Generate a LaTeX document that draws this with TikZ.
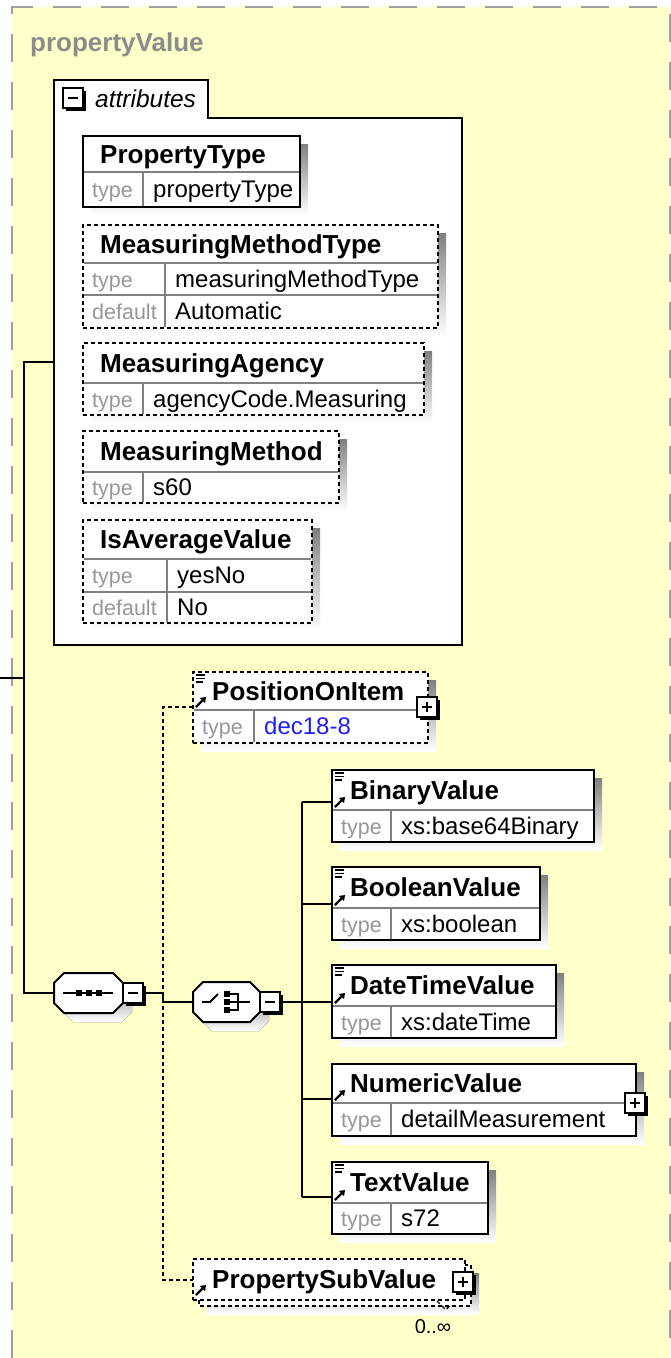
\documentclass[tikz,border=0pt]{standalone}
\usepackage{fontspec}
\setmainfont{Liberation Sans}
\usetikzlibrary{arrows.meta}
\definecolor{bgyellow}{RGB}{255,255,202}
\definecolor{framegray}{RGB}{158,158,158}
\definecolor{shade}{RGB}{192,192,192}
\definecolor{titlegray}{RGB}{140,140,140}
\definecolor{labelgray}{RGB}{150,150,150}
\definecolor{cellgray}{RGB}{128,128,128}
\definecolor{typeblue}{RGB}{30,30,255}
\tikzset{
  boxframe/.style={draw,line width=2pt,fill=white,inner sep=0pt},
  opt/.style={dash pattern=on 4pt off 3pt},
  cellline/.style={cellgray,line width=1.5pt},
  conn/.style={line width=2pt},
  nametext/.style={anchor=base west,inner sep=0pt,font=\bfseries\fontsize{26}{30}\selectfont},
  labeltext/.style={anchor=base west,inner sep=0pt,text=labelgray,font=\fontsize{21.5}{26}\selectfont},
  valuetext/.style={anchor=base west,inner sep=0pt,font=\fontsize{24}{28}\selectfont},
}
% id, style, x1, y1, x2, y2
\newcommand{\xbox}[6]{%
  \fill[shade] (#3+8,#4+8) rectangle (#5+8,#6+8);
  \node[boxframe,#2,minimum width=#5pt-#3pt,minimum height=#6pt-#4pt] (#1) at ({(#3+#5)/2},{(#4+#6)/2}) {};}
% id, x1, x2, ytop, ybottom, divider, label, value
\newcommand{\xrow}[8]{%
  \draw[cellline] (#2+1,#4) -- (#3-1,#4) (#6,#4) -- (#6,#5-1);
  \node[labeltext] (#1l) at (#2+9,{(#4+#5)/2+8}) {#7};
  \node[valuetext] (#1v) at (#6+10,{(#4+#5)/2+8}) {#8};}
\newcommand{\xlines}[2]{\draw[line width=1.3pt] (#1+3,#2+3) -- (#1+12,#2+3) (#1+3,#2+6.5) -- (#1+12,#2+6.5) (#1+3,#2+10) -- (#1+10,#2+10);}
\newcommand{\xarrow}[2]{\draw[line width=2.2pt,-{Triangle[length=5pt,width=7pt]}] (#1+3,#2-3) -- (#1+13,#2-13);}
% id, x, y, sign
\newcommand{\xtoggle}[4]{%
  \fill (#2+3,#3+3) rectangle (#2+23,#3+23);
  \node[draw,line width=1.5pt,fill=white,inner sep=0pt,minimum size=20pt] (#1) at (#2+10,#3+10) {};
  \draw[line width=1.5pt] (#2+5,#3+10) -- (#2+15,#3+10);
  \ifx#4+\draw[line width=1.5pt] (#2+10,#3+5) -- (#2+10,#3+15);\fi}
\newcommand{\octo}[5]{(#1+10+#5,#2+#5) -- (#3-10+#5,#2+#5) -- (#3+#5,#2+10+#5) -- (#3+#5,#4-10+#5) -- (#3-10+#5,#4+#5) -- (#1+10+#5,#4+#5) -- (#1+#5,#4-10+#5) -- (#1+#5,#2+10+#5) -- cycle}
\begin{document}
\begin{tikzpicture}[x=1pt,y=-1pt]
\useasboundingbox (0,0) rectangle (671,1358);
\fill[bgyellow] (12,7) rectangle (670,1358);
\draw[framegray,line width=2.5pt,dash pattern=on 28pt off 20pt] (12,1358) -- (12,7) -- (670,7) -- (670,1358);
\node[anchor=base west,inner sep=0pt,text=titlegray,font=\bfseries\fontsize{26}{30}\selectfont] (title) at (30,51) {propertyValue};

\draw[line width=2pt,fill=white] (54,80) -- (208,80) -- (208,118) -- (462,118) -- (462,645) -- (54,645) -- cycle;
\xtoggle{attrtog}{63}{88}{-}
\node[anchor=base west,inner sep=0pt,font=\itshape\fontsize{24.5}{28}\selectfont] (attrlabel) at (95,107) {attributes};
\coordinate (attrs) at (54,362);

\xbox{ptype}{}{83}{136}{300}{207}
\node[nametext] (ptypen) at (100,163) {PropertyType};
\xrow{ptype}{83}{300}{172}{207}{143}{type}{propertyType}

\xbox{mmtype}{opt}{83}{225}{438}{328}
\node[nametext] (mmtypen) at (100,253) {MeasuringMethodType};
\xrow{mmtypeA}{83}{438}{263}{295}{165}{type}{measuringMethodType}
\xrow{mmtypeB}{83}{438}{295}{328}{165}{default}{Automatic}

\xbox{magency}{opt}{83}{343}{424}{415}
\node[nametext] (magencyn) at (100,372) {MeasuringAgency};
\xrow{magency}{83}{424}{383}{415}{143}{type}{agencyCode.Measuring}

\xbox{mmethod}{opt}{83}{431}{339}{503}
\node[nametext] (mmethodn) at (100,460.5) {MeasuringMethod};
\xrow{mmethod}{83}{339}{472}{503}{143}{type}{s60}

\xbox{isavg}{opt}{83}{520}{312}{623}
\node[nametext] (isavgn) at (100,548.5) {IsAverageValue};
\xrow{isavgA}{83}{312}{559}{592}{167}{type}{yesNo}
\xrow{isavgB}{83}{312}{592}{623}{167}{default}{No}

\fill[shade] \octo{54}{973}{123}{1013}{9};
\draw[line width=2pt,fill=white] \octo{54}{973}{123}{1013}{0};
\node[inner sep=0pt,minimum width=69pt,minimum height=40pt] (seq) at (88.5,993) {};
\draw[line width=1.8pt] (63,993) -- (113,993);
\foreach \dx in {79,89,99} \fill (\dx-3,990) rectangle (\dx+3,996);
\xtoggle{seqtog}{123}{983}{-}

\fill[shade] \octo{193}{982}{260}{1022}{9};
\draw[line width=2pt,fill=white] \octo{193}{982}{260}{1022}{0};
\node[inner sep=0pt,minimum width=67pt,minimum height=40pt] (choice) at (226.5,1002) {};
\draw[line width=1.8pt] (202,1002) -- (210,1002) -- (218,994);
\foreach \dy in {994,1002,1010} \fill (224,\dy-3) rectangle (230,\dy+3);
\draw[line width=1.8pt] (230,994) -- (238,994) -- (238,1010) -- (230,1010) (230,1002) -- (250,1002);
\xtoggle{choicetog}{260}{992}{-}

\xbox{pos}{opt}{193}{672}{428}{743}
\xlines{193}{672} \xarrow{193}{710}
\node[nametext] (posn) at (212,700) {PositionOnItem};
\xrow{pos}{193}{428}{710}{743}{254}{type}{\color{typeblue}dec18-8}
\xtoggle{postog}{417}{697}{+}
\coordinate (pos-in) at (193,707);

\xbox{bin}{}{332}{770}{594}{842}
\xlines{332}{770} \xarrow{332}{810}
\node[nametext] (binn) at (350,799) {BinaryValue};
\xrow{bin}{332}{594}{810}{842}{391}{type}{xs:base64Binary}
\coordinate (bin-in) at (332,802);

\xbox{bool}{}{332}{867}{540}{940}
\xlines{332}{867} \xarrow{332}{908}
\node[nametext] (booln) at (350,896.5) {BooleanValue};
\xrow{bool}{332}{540}{908}{940}{391}{type}{xs:boolean}
\coordinate (bool-in) at (332,904);

\xbox{dt}{}{332}{965}{556}{1038}
\xlines{332}{965} \xarrow{332}{1006}
\node[nametext] (dtn) at (350,994.5) {DateTimeValue};
\xrow{dt}{332}{556}{1006}{1038}{391}{type}{xs:dateTime}
\coordinate (dt-in) at (332,1002);

\xbox{num}{}{332}{1064}{636}{1136}
\xarrow{332}{1103}
\node[nametext] (numn) at (350,1092.5) {NumericValue};
\xrow{num}{332}{636}{1103}{1136}{391}{type}{detailMeasurement}
\xtoggle{numtog}{625}{1093}{+}
\coordinate (num-in) at (332,1099);

\xbox{txt}{}{332}{1162}{488}{1234}
\xlines{332}{1162} \xarrow{332}{1203}
\node[nametext] (txtn) at (350,1191.5) {TextValue};
\xrow{txt}{332}{488}{1203}{1234}{391}{type}{s72}
\coordinate (txt-in) at (332,1197);

\fill[shade] (207,1273) rectangle (479,1314);
\draw[boxframe,opt] (199,1265) rectangle (471,1306);
\node[boxframe,opt,minimum width=272pt,minimum height=41pt] (psv) at (329,1279.5) {};
\xarrow{193}{1298}
\node[nametext] (psvn) at (212,1288.5) {PropertySubValue};
\xtoggle{psvtog}{453}{1272}{+}
\draw[line width=1.2pt,opt] (437,1301) -- (446,1310) -- (450,1305);
\node[inner sep=0pt,font=\fontsize{20}{24}\selectfont] (psvmult) at (433,1327) {0..∞};
\coordinate (psv-in) at (193,1280);

\coordinate (parent) at (0,678);
\coordinate (attrbus) at (24,362);
\coordinate (optbus) at (163,707);
\coordinate (choicebus) at (302,802);
\draw[conn] (parent) -- (parent -| attrbus);
\draw[conn] (attrs) -- (attrbus) |- (seq.west);
\draw[conn] (seqtog.east) -- (seqtog.east -| optbus) |- (choice.west);
\draw[conn] (choicetog.east) -- (choicetog.east -| choicebus);
\draw[conn] (choicebus) -- (choicebus |- txt-in);
\foreach \e in {bin,bool,dt,num,txt} \draw[conn] (choicebus |- \e-in) -- (\e-in);
\draw[conn,opt] (pos-in) -- (optbus) -- (optbus |- psv-in) -- (psv-in);
\end{tikzpicture}
\end{document}
